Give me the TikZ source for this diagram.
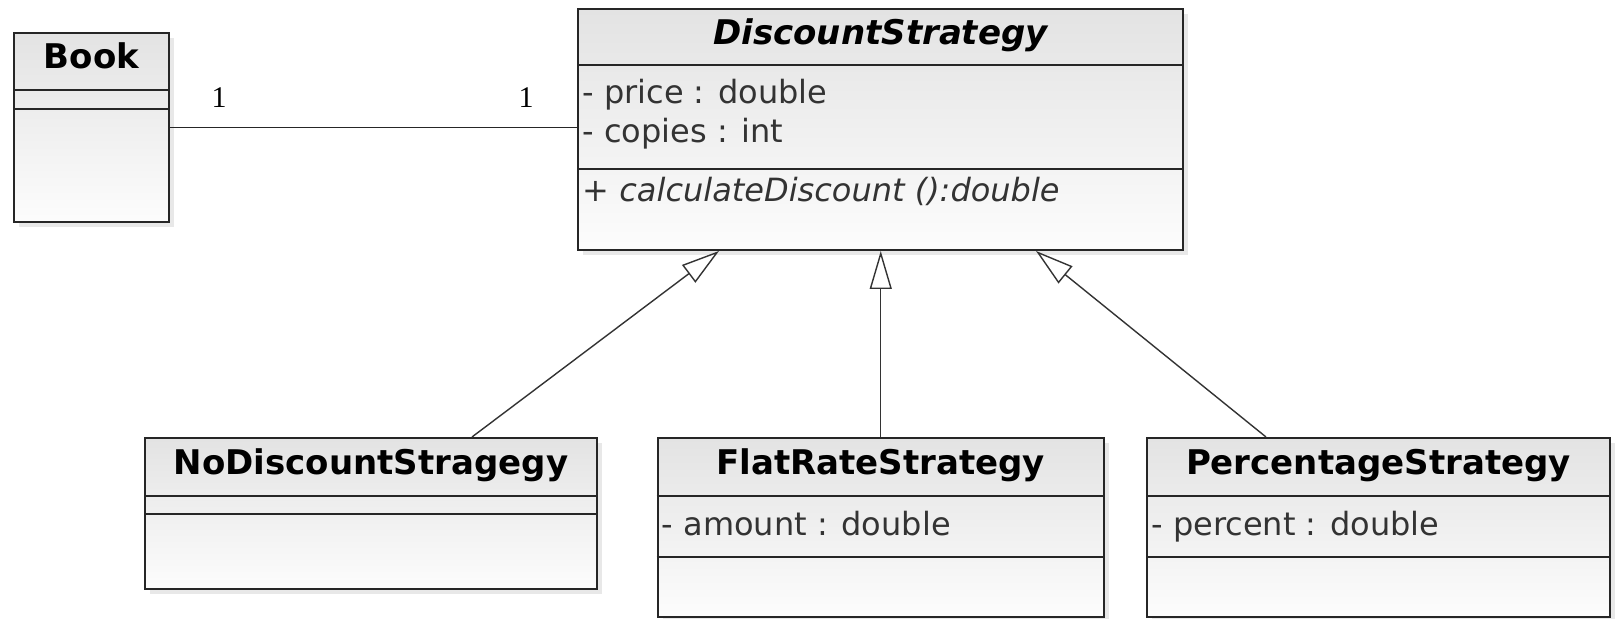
\documentclass[tikz,border=0pt]{standalone}
\usepackage{fontspec}
\setmainfont{DejaVu Sans}
\newfontfamily\multfont{Liberation Serif}
\usetikzlibrary{arrows.meta,calc,shadows}

\tikzset{
	classbox/.style={rectangle, draw=black!85, line width=1pt, inner sep=0pt,
		top color=black!11, bottom color=black!1,
		drop shadow={opacity=0.18, shadow xshift=2.5pt, shadow yshift=-2.5pt}},
	classname/.style={anchor=base, inner sep=0pt, font=\fontsize{17}{20}\selectfont\bfseries},
	member/.style={anchor=base west, inner sep=0pt, text=black!80, font=\fontsize{16}{19}\selectfont},
	sepline/.style={draw=black!85, line width=1pt},
	assoc/.style={draw=black!85, line width=0.8pt},
	mult/.style={inner sep=0pt, font=\multfont\fontsize{15}{18}\selectfont},
	inherit/.style={draw=black!80, line width=0.7pt,
		-{Triangle[open, length=19pt, width=11pt, fill=white]}}
}

\begin{document}
\begin{tikzpicture}[x=0.5pt, y=-0.5pt]
	\path[use as bounding box, fill=white] (0,0) rectangle (1616,619);

	% classes
	\node[classbox, minimum width=77.5pt, minimum height=94.1pt] (book) at (91.5,127.6) {};
	\node[classbox, minimum width=302.5pt, minimum height=120.35pt] (ds) at (880.5,129.65) {};
	\node[classbox, minimum width=226pt, minimum height=75.25pt] (nodisc) at (371,513.25) {};
	\node[classbox, minimum width=223.25pt, minimum height=89.5pt] (flat) at (880.75,527.5) {};
	\node[classbox, minimum width=231.5pt, minimum height=89.5pt] (pct) at (1378.5,527.5) {};

	% compartments
	\draw[sepline] ($(book.north west)+(0,57.2)$) -- ($(book.north east)+(0,57.2)$);
	\draw[sepline] ($(book.north west)+(0,76.5)$) -- ($(book.north east)+(0,76.5)$);
	\draw[sepline] ($(ds.north west)+(0,56.7)$) -- ($(ds.north east)+(0,56.7)$);
	\draw[sepline] ($(ds.north west)+(0,160.7)$) -- ($(ds.north east)+(0,160.7)$);
	\draw[sepline] ($(nodisc.north west)+(0,58.7)$) -- ($(nodisc.north east)+(0,58.7)$);
	\draw[sepline] ($(nodisc.north west)+(0,77)$) -- ($(nodisc.north east)+(0,77)$);
	\draw[sepline] ($(flat.north west)+(0,58.7)$) -- ($(flat.north east)+(0,58.7)$);
	\draw[sepline] ($(flat.north west)+(0,119.6)$) -- ($(flat.north east)+(0,119.6)$);
	\draw[sepline] ($(pct.north west)+(0,58.7)$) -- ($(pct.north east)+(0,58.7)$);
	\draw[sepline] ($(pct.north west)+(0,119.6)$) -- ($(pct.north east)+(0,119.6)$);

	% names
	\node[classname] (booktitle) at ($(book.north)+(0,36)$) {Book};
	\node[classname] (dstitle) at ($(ds.north)+(0,36)$) {\itshape DiscountStrategy};
	\node[classname] (nodisctitle) at ($(nodisc.north)+(0,38)$) {NoDiscountStragegy};
	\node[classname] (flattitle) at ($(flat.north)+(0,38)$) {FlatRateStrategy};
	\node[classname] (pcttitle) at ($(pct.north)+(0,38)$) {PercentageStrategy};

	% members
	\node[member] (dsprice) at ($(ds.north west)+(5,95.7)$) {- price : double};
	\node[member] (dscopies) at ($(ds.north west)+(5,134.7)$) {- copies : int};
	\node[member] (dscalc) at ($(ds.north west)+(5,193.7)$) {+ \itshape calculateDiscount ():double};
	\node[member] (flatamount) at ($(flat.north west)+(5,98.5)$) {- amount : double};
	\node[member] (pctpercent) at ($(pct.north west)+(5,98.5)$) {- percent : double};

	% association
	\draw[assoc] (book.east) -- (book.east -| ds.west);
	\node[mult] (multbook) at ($(book.east)+(49,-29.6)$) {1};
	\node[mult] (multds) at ($(ds.west)+(-51,-31.6)$) {1};

	% generalizations
	\draw[inherit] ($(nodisc.north)+(101,0)$) -- ($(ds.south)+(-161.5,0)$);
	\draw[inherit] (flat.north) -- (flat.north |- ds.south);
	\draw[inherit] ($(pct.north)+(-112.5,0)$) -- ($(ds.south)+(155.5,0)$);
\end{tikzpicture}
\end{document}
